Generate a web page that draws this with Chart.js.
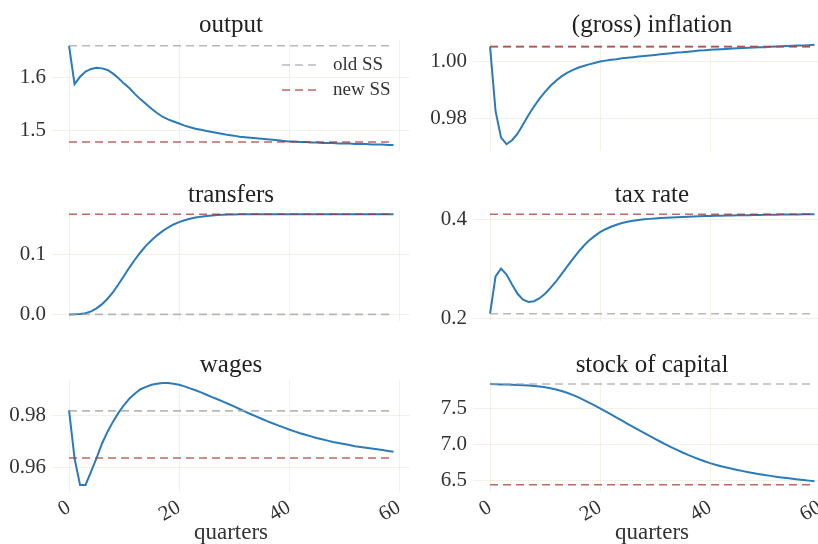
<!DOCTYPE html>
<html>
<head>
<meta charset="utf-8">
<script src="https://cdn.jsdelivr.net/npm/chart.js@4.4.1/dist/chart.umd.min.js"></script>
<style>
  html, body { margin: 0; padding: 0; background: #fff; overflow: hidden; }
  body { width: 818px; height: 544px; position: relative; }
  canvas { position: absolute; }
</style>
</head>
<body>
<canvas id="c0" width="410" height="170" style="left:0;top:0"></canvas>
<canvas id="c1" width="421" height="170" style="left:410px;top:0"></canvas>
<canvas id="c2" width="410" height="170" style="left:0;top:170px"></canvas>
<canvas id="c3" width="421" height="170" style="left:410px;top:170px"></canvas>
<canvas id="c4" width="410" height="204" style="left:0;top:340px"></canvas>
<canvas id="c5" width="421" height="204" style="left:410px;top:340px"></canvas>
<script>
// quarters after the shock
const quarters = Array.from({ length: 60 }, (_, i) => i);
const xTicks = [0, 20, 40, 60];

const output = [1.661, 1.588, 1.602, 1.612, 1.617, 1.619, 1.618, 1.615, 1.608, 1.599,
    1.589, 1.580, 1.569, 1.559, 1.550, 1.541, 1.533, 1.526, 1.521, 1.517,
    1.513, 1.509, 1.506, 1.503, 1.501, 1.499, 1.497, 1.495, 1.493, 1.491,
    1.490, 1.488, 1.487, 1.486, 1.485, 1.484, 1.483, 1.482, 1.481, 1.480,
    1.479, 1.479, 1.478, 1.478, 1.477, 1.477, 1.476, 1.476, 1.476, 1.475,
    1.475, 1.475, 1.474, 1.474, 1.474, 1.473, 1.473, 1.473, 1.472, 1.472];

const inflation = [1.0052, 0.9827, 0.9734, 0.9711, 0.9725, 0.9748, 0.9780, 0.9813, 0.9843, 0.9870,
    0.9894, 0.9915, 0.9933, 0.9948, 0.9960, 0.9970, 0.9978, 0.9984, 0.9990, 0.9995,
    1.0000, 1.0003, 1.0006, 1.0008, 1.0011, 1.0013, 1.0015, 1.0017, 1.0019, 1.0021,
    1.0023, 1.0025, 1.0027, 1.0029, 1.0031, 1.0032, 1.0034, 1.0036, 1.0038, 1.0039,
    1.0041, 1.0042, 1.0043, 1.0044, 1.0045, 1.0046, 1.0047, 1.0048, 1.0049, 1.0050,
    1.0050, 1.0051, 1.0052, 1.0053, 1.0054, 1.0055, 1.0056, 1.0056, 1.0057, 1.0058];

const transfers = [0, 0.0002, 0.0008, 0.002, 0.005, 0.010, 0.017, 0.026, 0.037, 0.050,
    0.064, 0.078, 0.091, 0.103, 0.114, 0.123, 0.131, 0.138, 0.144, 0.149,
    0.153, 0.156, 0.1585, 0.1605, 0.162, 0.163, 0.164, 0.1647, 0.1652, 0.1655,
    0.1657, 0.1658, 0.1659, 0.166, 0.166, 0.166, 0.166, 0.166, 0.166, 0.166,
    0.166, 0.166, 0.166, 0.166, 0.166, 0.166, 0.166, 0.166, 0.166, 0.166,
    0.166, 0.166, 0.166, 0.166, 0.166, 0.166, 0.166, 0.166, 0.166, 0.166];

const taxRate = [0.2095, 0.2855, 0.301, 0.289, 0.269, 0.250, 0.238, 0.2335, 0.235, 0.241,
    0.250, 0.262, 0.275, 0.290, 0.305, 0.320, 0.334, 0.347, 0.358, 0.367,
    0.375, 0.381, 0.386, 0.390, 0.3935, 0.396, 0.398, 0.3995, 0.401, 0.402,
    0.403, 0.404, 0.4045, 0.405, 0.4055, 0.406, 0.4064, 0.4068, 0.4072, 0.4076,
    0.408, 0.4082, 0.4085, 0.4087, 0.4089, 0.4092, 0.4094, 0.4096, 0.4098, 0.4100,
    0.4102, 0.4104, 0.4105, 0.4107, 0.4108, 0.4110, 0.4111, 0.4112, 0.4113, 0.4114];

const wages = [0.9819, 0.9636, 0.9535, 0.9535, 0.9585, 0.9637, 0.9692, 0.9737, 0.9775, 0.9809,
    0.9838, 0.9863, 0.9882, 0.9898, 0.9907, 0.9915, 0.9919, 0.9922, 0.9922, 0.9919,
    0.9915, 0.9909, 0.9901, 0.9894, 0.9886, 0.9877, 0.9868, 0.9860, 0.9851, 0.9842,
    0.9833, 0.9823, 0.9813, 0.9804, 0.9795, 0.9786, 0.9777, 0.9769, 0.9761, 0.9753,
    0.9745, 0.9738, 0.9731, 0.9725, 0.9719, 0.9713, 0.9708, 0.9703, 0.9698, 0.9694,
    0.9690, 0.9686, 0.9682, 0.9679, 0.9676, 0.9673, 0.9670, 0.9667, 0.9664, 0.9661];

const capital = [7.840, 7.838, 7.835, 7.832, 7.829, 7.826, 7.822, 7.818, 7.812, 7.805,
    7.795, 7.782, 7.765, 7.744, 7.719, 7.690, 7.657, 7.621, 7.583, 7.543,
    7.502, 7.460, 7.417, 7.374, 7.331, 7.288, 7.245, 7.202, 7.160, 7.119,
    7.078, 7.038, 6.999, 6.961, 6.924, 6.889, 6.856, 6.825, 6.795, 6.767,
    6.741, 6.719, 6.699, 6.680, 6.662, 6.645, 6.630, 6.615, 6.601, 6.588,
    6.575, 6.564, 6.553, 6.543, 6.533, 6.524, 6.515, 6.506, 6.498, 6.490];

// old and new steady states, per panel
const oldSS = [1.661, 1.0052, 0.0, 0.2095, 0.9816, 7.84];
const newSS = [1.478, 1.0052, 0.166, 0.4115, 0.9637, 6.44];

const panelTitles = ['output', '(gross) inflation', 'transfers', 'tax rate', 'wages', 'stock of capital'];
const yTickValues = [[1.5, 1.6], [0.98, 1.00], [0.0, 0.1], [0.2, 0.4], [0.96, 0.98], [6.5, 7.0, 7.5]];
const yDecimals = [1, 2, 1, 1, 2, 1];
const yLimits = [[1.460, 1.672], [0.9686, 1.0075], [-0.0116, 0.173], [0.194, 0.420], [0.9508, 0.9933], [6.34, 7.896]];

const FONT = "'Liberation Serif', 'Times New Roman', serif";
const BLUE = '#2b7bba';
const GRAY = 'rgba(160,160,160,0.75)';
const RED = 'rgba(165,55,50,0.75)';
const GRID = 'rgba(225,215,185,0.35)';

const ssLegend = {
    id: 'ssLegend',
    afterDatasetsDraw(chart) {
        const ctx = chart.ctx;
        const area = chart.chartArea;
        const items = chart.data.datasets.filter(d => d.label === 'old SS' || d.label === 'new SS')
            .sort((a, b) => (a.label === 'old SS' ? -1 : 1));
        ctx.save();
        items.forEach((d, i) => {
            const y = area.top + 25 + i * 25;
            ctx.strokeStyle = d.borderColor;
            ctx.lineWidth = d.borderWidth;
            ctx.setLineDash(d.borderDash);
            ctx.beginPath();
            ctx.moveTo(area.right - 128, y);
            ctx.lineTo(area.right - 90, y);
            ctx.stroke();
            ctx.setLineDash([]);
            ctx.fillStyle = '#333';
            ctx.font = "19px " + FONT;
            ctx.textBaseline = 'middle';
            ctx.textAlign = 'left';
            ctx.fillText(d.label, area.right - 77, y);
        });
        ctx.restore();
    }
};

function makePanel(i) {
    const ctx = document.getElementById('c' + i).getContext('2d');
    const leftCol = i % 2 === 0;
    const bottomRow = i >= 4;
    const series = [output, inflation, transfers, taxRate, wages, capital][i];
    // right column plot runs past the page edge, centre titles on the visible part
    const titleShift = leftCol ? 0 : 12;

    new Chart(ctx, {
        type: 'line',
        data: {
            datasets: [{
                label: 'new SS',
                data: [{ x: 0, y: newSS[i] }, { x: 59, y: newSS[i] }],
                borderColor: RED,
                borderWidth: 1.6,
                borderDash: [8, 5],
                pointRadius: 0
            }, {
                label: 'old SS',
                data: [{ x: 0, y: oldSS[i] }, { x: 59, y: oldSS[i] }],
                borderColor: GRAY,
                borderWidth: 1.6,
                borderDash: [8, 5],
                pointRadius: 0
            }, {
                label: panelTitles[i],
                data: quarters.map((q, k) => ({ x: q, y: series[k] })),
                borderColor: BLUE,
                borderWidth: 2,
                pointRadius: 0,
                tension: 0
            }]
        },
        options: {
            responsive: false,
            animation: false,
            events: [],
            layout: { padding: 0 },
            plugins: {
                legend: { display: false },
                tooltip: { enabled: false },
                title: {
                    display: true,
                    fullSize: false,
                    text: panelTitles[i],
                    color: '#222',
                    font: { family: FONT, size: 25, weight: 'normal', lineHeight: 1.2 },
                    padding: { top: 10, bottom: 0 }
                }
            },
            scales: {
                x: {
                    type: 'linear',
                    min: -3.1,
                    max: 62,
                    border: { display: false },
                    grid: { color: GRID, drawTicks: false },
                    afterBuildTicks: s => { s.ticks = xTicks.map(v => ({ value: v })); },
                    afterFit: s => {
                        s.height = bottomRow ? 52 : 18;
                        s.paddingLeft = 0;
                        s.paddingRight = 0;
                    },
                    ticks: {
                        display: bottomRow,
                        autoSkip: false,
                        minRotation: 30,
                        maxRotation: 30,
                        padding: 3,
                        color: '#333',
                        font: { family: FONT, size: 21 }
                    },
                    title: {
                        display: bottomRow,
                        text: 'quarters',
                        color: '#333',
                        font: { family: FONT, size: 23, lineHeight: 1.0 },
                        padding: 0
                    }
                },
                y: {
                    min: yLimits[i][0],
                    max: yLimits[i][1],
                    border: { display: false },
                    grid: { color: GRID, drawTicks: false },
                    afterBuildTicks: s => { s.ticks = yTickValues[i].map(v => ({ value: v })); },
                    afterFit: s => { s.width = leftCol ? 52 : 63; },
                    ticks: {
                        padding: 6,
                        color: '#333',
                        font: { family: FONT, size: 21 },
                        callback: v => Number(v).toFixed(yDecimals[i])
                    }
                }
            }
        },
        plugins: i === 0 ? [ssLegend] : []
    });
}

for (let i = 0; i < 6; i++) {
    makePanel(i);
}
</script>
</body>
</html>
